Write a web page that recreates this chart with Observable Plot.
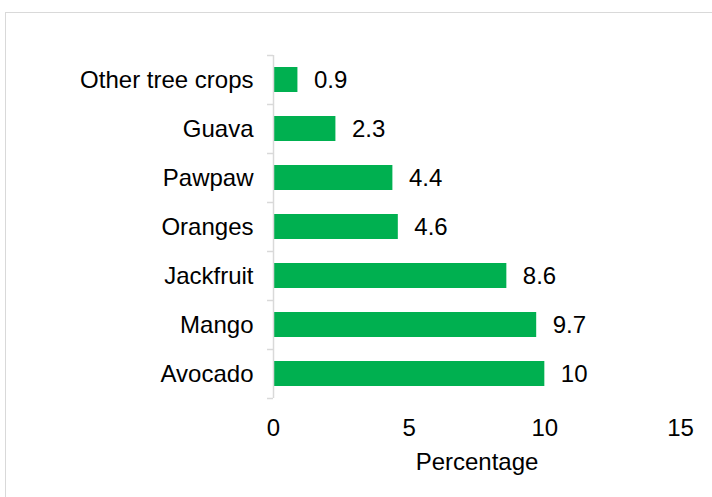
<!DOCTYPE html>
<html>
<head>
<meta charset="utf-8">
<script src="https://cdn.jsdelivr.net/npm/d3@7"></script>
<script src="https://cdn.jsdelivr.net/npm/@observablehq/plot@0.6"></script>
<style>
  html, body { margin: 0; padding: 0; background: #fff; overflow: hidden; }
  #wrap { position: relative; width: 712px; height: 497px; overflow: hidden; }
  #frame { position: absolute; left: 5px; top: 12px; width: 720px; height: 520px; border: 1.5px solid #d9d9d9; box-sizing: border-box; pointer-events: none; }
  #chart { position: absolute; left: 0; top: 0; }
</style>
</head>
<body>
<div id="wrap"><div id="chart"></div><div id="frame"></div></div>
<script>
const categories = ["Other tree crops", "Guava", "Pawpaw", "Oranges", "Jackfruit", "Mango", "Avocado"];
const values = [0.9, 2.3, 4.4, 4.6, 8.6, 9.7, 10];
const xTicks = [0, 5, 10, 15];
const xLabel = "Percentage";

const data = categories.map((c, i) => ({category: c, value: values[i]}));

const chart = Plot.plot({
  width: 712,
  height: 497,
  marginLeft: 273,
  marginRight: 32,
  marginTop: 55,
  marginBottom: 99,
  style: {fontSize: "24px", fontFamily: "'Liberation Sans', Arial, sans-serif", color: "#000", background: "transparent"},
  x: {domain: [0, 15], ticks: xTicks},
  y: {domain: categories, paddingInner: 0.5, paddingOuter: 0.25},
  marks: [
    Plot.barX(data, {x: "value", y: "category", fill: "#00B050"}),
    Plot.ruleX([0], {stroke: "#d9d9d9", strokeWidth: 1.5}),
    Plot.ruleY(categories, {y: d => d, x1: -0.22, x2: 0, dy: -24.5, stroke: "#d9d9d9", strokeWidth: 1.5}),
    Plot.ruleY([categories[categories.length - 1]], {y: d => d, x1: -0.22, x2: 0, dy: 24.5, stroke: "#d9d9d9", strokeWidth: 1.5}),
    Plot.text(data, {x: "value", y: "category", text: d => String(d.value), textAnchor: "start", dx: 16, fill: "#000", fontSize: 24}),
    Plot.axisY({tickSize: 0, tickPadding: 20, label: null, fontSize: 24, fill: "#000"}),
    Plot.axisX({ticks: xTicks, tickSize: 0, tickPadding: 20, label: null, fontSize: 24, fill: "#000"}),
    Plot.text([xLabel], {frameAnchor: "bottom", dy: 71, text: d => d, fontSize: 24, fill: "#000"})
  ]
});
document.getElementById("chart").appendChild(chart);
</script>
</body>
</html>
